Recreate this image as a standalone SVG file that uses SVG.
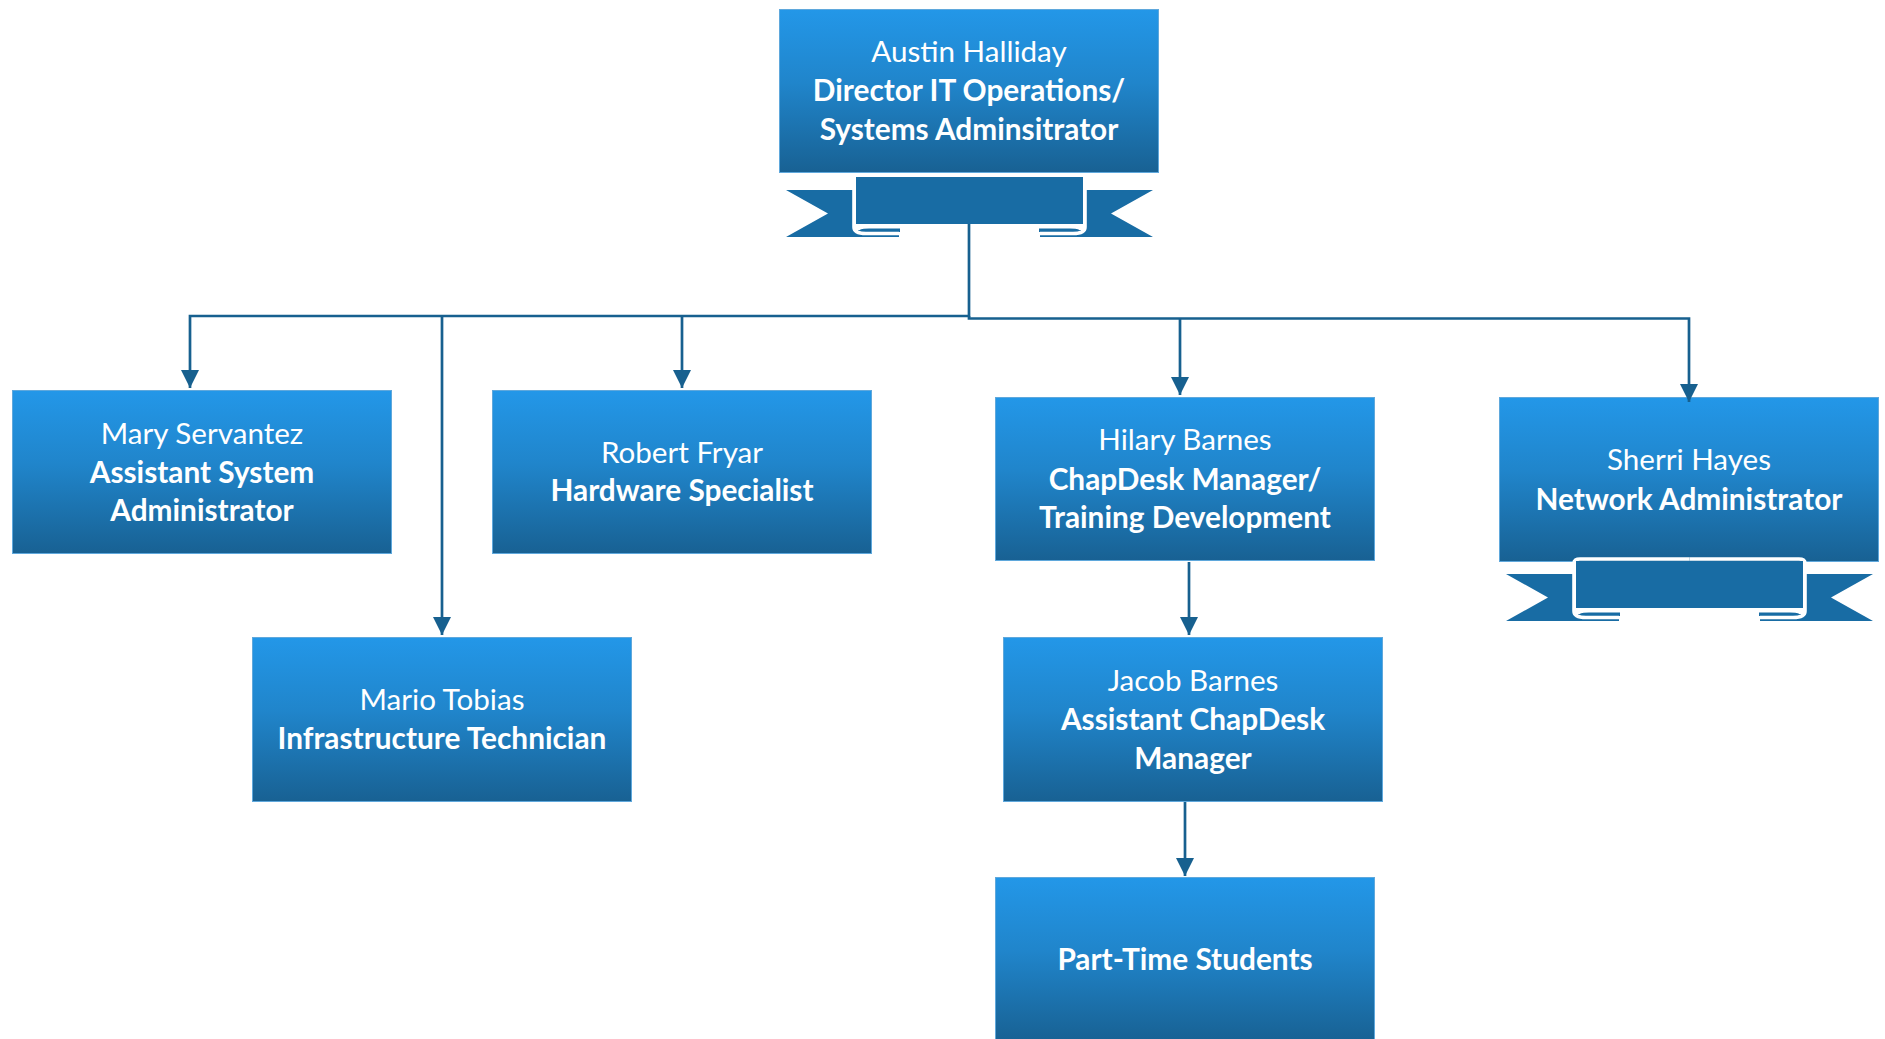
<svg xmlns="http://www.w3.org/2000/svg" xmlns:xlink="http://www.w3.org/1999/xlink" width="1885" height="1039" viewBox="0 0 1885 1039">
<style>
text{font-family:Lato,"Open Sans","Liberation Sans",sans-serif;font-size:29.6px;fill:#fff;text-anchor:middle}
text.b{font-weight:700;font-size:29.8px}
.box{fill:url(#g);stroke:#5fa8dc;stroke-width:1}
.c{fill:none;stroke:#17608f;stroke-width:2.7}
.rib{fill:#186ca4}
.curl{fill:none;stroke:#fff;stroke-width:3.6}
</style>
<defs>
<linearGradient id="g" x1="0" y1="0" x2="0" y2="1"><stop offset="0" stop-color="#2397e8"/><stop offset="0.45" stop-color="#2085cb"/><stop offset="1" stop-color="#186193"/></linearGradient>
<marker id="a" markerUnits="userSpaceOnUse" markerWidth="20" markerHeight="20" refX="18" refY="9" orient="auto"><path d="M0 0L18 9L0 18Z" fill="#17608f"/></marker>
<g id="half">
<path class="rib" d="M7 17H75V56H120V64H7L49 40.500Z"/>
<path d="M76 50H122V57H76Z" fill="#fff"/>
<path class="rib" d="M81 56.500Q84 55.500 90 55.500H121V59H88Q83 59 81 56.500Z"/>
<path class="curl" d="M75 54V6Q75 2 81 2H190.500M75 54Q75 60.500 87 60.500H120"/>
<path class="rib" d="M77 4H191V51H77Z"/>
</g>
<g id="ribbon">
<use xlink:href="#half" href="#half"/>
<use xlink:href="#half" href="#half" transform="matrix(-1 0 0 1 381 0)"/>
</g>
</defs>
<g id="node-austin"><rect class="box" x="779.500" y="9.500" width="379" height="163"/><use xlink:href="#ribbon" href="#ribbon" x="779" y="173"/><text x="969" y="62">Austin Halliday</text><text class="b" x="969" y="101">Director IT Operations/</text><text class="b" x="969" y="140">Systems Adminsitrator</text></g>
<g id="node-mary"><rect class="box" x="12.500" y="390.500" width="379" height="163"/><text x="202" y="444">Mary Servantez</text><text class="b" x="202" y="483">Assistant System</text><text class="b" x="202" y="521">Administrator</text></g>
<g id="node-robert"><rect class="box" x="492.500" y="390.500" width="379" height="163"/><text x="682" y="463">Robert Fryar</text><text class="b" x="682" y="501">Hardware Specialist</text></g>
<g id="node-hilary"><rect class="box" x="995.500" y="397.500" width="379" height="163"/><text x="1185" y="450">Hilary Barnes</text><text class="b" x="1185" y="490">ChapDesk Manager/</text><text class="b" x="1185" y="528">Training Development</text></g>
<g id="node-sherri"><rect class="box" x="1499.500" y="397.500" width="379" height="164"/><use xlink:href="#ribbon" href="#ribbon" x="1499" y="557"/><text x="1689" y="470">Sherri Hayes</text><text class="b" x="1689" y="510">Network Administrator</text></g>
<g id="node-mario"><rect class="box" x="252.500" y="637.500" width="379" height="164"/><text x="442" y="710">Mario Tobias</text><text class="b" x="442" y="749">Infrastructure Technician</text></g>
<g id="node-jacob"><rect class="box" x="1003.500" y="637.500" width="379" height="164"/><text x="1193" y="691">Jacob Barnes</text><text class="b" x="1193" y="730">Assistant ChapDesk</text><text class="b" x="1193" y="769">Manager</text></g>
<g id="node-students"><rect class="box" x="995.500" y="877.500" width="379" height="164"/><text class="b" x="1185" y="970">Part-Time Students</text></g>
<g id="connectors">
<path class="c" d="M969 224V316H190V388" marker-end="url(#a)"/>
<path class="c" d="M442 316V635" marker-end="url(#a)"/>
<path class="c" d="M682 316V388" marker-end="url(#a)"/>
<path class="c" d="M969 316V318.500H1689V402" marker-end="url(#a)"/>
<path class="c" d="M1180 318.500V395" marker-end="url(#a)"/>
<path class="c" d="M1189 562V635" marker-end="url(#a)"/>
<path class="c" d="M1185 802V876" marker-end="url(#a)"/>
</g>
</svg>
